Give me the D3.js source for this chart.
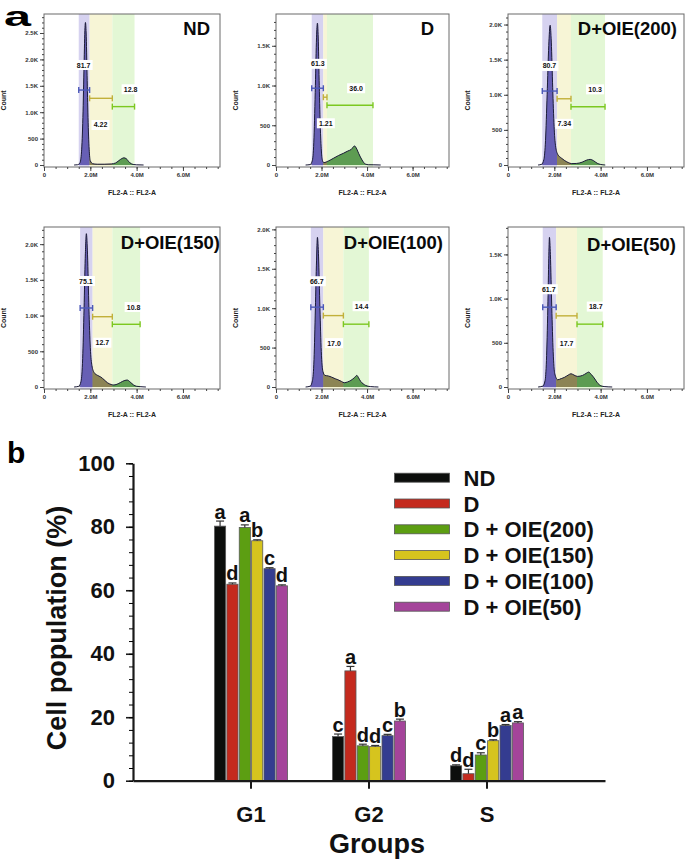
<!DOCTYPE html>
<html><head><meta charset="utf-8">
<script src="https://cdn.jsdelivr.net/npm/d3@7"></script>
<style>
body{margin:0;background:#fff}
svg{display:block}
text{font-family:"Liberation Sans",Arial,Helvetica,sans-serif;font-weight:bold}
</style>
</head><body>
<svg id="c" width="685" height="859"></svg>
<script>
// ---------------- Panel a : DNA histograms ----------------
const panelTitles = ["ND","D","D+OIE(200)","D+OIE(150)","D+OIE(100)","D+OIE(50)"];
const panelYMax = [2860, 1900, 2150, 2240, 2030, 1810];
const xTickValues = [0, 2, 4, 6];
const xTickLabels = ["0","2.0M","4.0M","6.0M"];
const yTickLabels = ["0","500","1.0K","1.5K","2.0K","2.5K"];

// [FL2-A (millions), count]
const histND = [[1.3,0],[1.45,5],[1.55,40],[1.62,250],[1.68,900],[1.73,1900],[1.77,2600],[1.79,2700],[1.82,2500],[1.86,1700],[1.9,900],[1.95,300],[2.0,80],[2.1,25],[2.3,15],[2.6,15],[2.9,20],[3.1,40],[3.3,105],[3.45,135],[3.55,120],[3.7,45],[3.85,10],[4.0,3],[4.3,0]];
const histD = [[1.3,0],[1.5,5],[1.6,60],[1.67,350],[1.73,1000],[1.78,1600],[1.82,1785],[1.86,1550],[1.9,1000],[1.95,450],[2.0,150],[2.05,50],[2.1,30],[2.3,50],[2.52,84],[2.75,120],[2.96,147],[3.15,175],[3.3,195],[3.45,239],[3.55,200],[3.63,147],[3.78,63],[3.92,13],[4.07,3],[4.3,2],[4.6,0]];
const hist200 = [[1.3,0],[1.45,10],[1.55,80],[1.62,350],[1.69,1000],[1.76,1700],[1.82,1990],[1.87,1750],[1.93,1100],[1.99,550],[2.05,280],[2.15,150],[2.3,100],[2.43,67],[2.6,35],[2.75,20],[2.95,22],[3.2,40],[3.4,70],[3.55,80],[3.7,60],[3.85,25],[4.0,8],[4.2,0]];
const hist150 = [[1.3,0],[1.5,10],[1.6,80],[1.67,400],[1.73,1100],[1.78,1800],[1.83,2147],[1.88,1850],[1.94,1100],[2.0,550],[2.07,300],[2.17,200],[2.3,165],[2.45,140],[2.6,100],[2.74,60],[2.9,35],[3.02,28],[3.2,45],[3.4,80],[3.59,98],[3.72,70],[3.87,28],[4.0,10],[4.15,5],[4.4,0]];
const hist100 = [[1.3,0],[1.5,10],[1.6,80],[1.67,350],[1.73,1000],[1.78,1600],[1.82,1899],[1.87,1650],[1.93,1000],[1.99,450],[2.06,200],[2.15,147],[2.3,140],[2.43,127],[2.6,105],[2.72,92],[2.88,70],[3.0,54],[3.15,65],[3.29,84],[3.45,120],[3.55,147],[3.63,115],[3.72,71],[3.83,40],[3.94,20],[4.15,5],[4.5,0]];
const hist50 = [[1.3,0],[1.5,10],[1.6,70],[1.66,300],[1.72,900],[1.76,1450],[1.79,1693],[1.83,1500],[1.89,900],[1.95,400],[2.02,150],[2.15,82],[2.3,95],[2.43,108],[2.6,135],[2.72,150],[2.85,135],[3.0,120],[3.22,131],[3.38,155],[3.48,169],[3.6,140],[3.72,102],[3.84,55],[3.94,26],[4.15,5],[4.5,0]];
const histograms = [histND, histD, hist200, hist150, hist100, hist50];

// gate edges (M): G1 start, G1 end / S start, S end / G2 start, G2 end
const gateEdges = [[1.50,1.97,2.95,3.91],[1.57,2.08,2.24,4.26],[1.48,2.12,2.72,4.19],[1.56,2.10,2.95,4.15],[1.53,2.08,2.96,4.08],[1.50,2.08,2.98,4.09]];
const gatePercents = [["81.7","4.22","12.8"],["61.3","1.21","36.0"],["80.7","7.34","10.3"],["75.1","12.7","10.8"],["66.7","17.0","14.4"],["61.7","17.7","18.7"]];
const bracketCounts = [[1420,1263,1106],[966,853,752],[1053,943,829],[1106,984,878],[1013,906,797],[903,805,711]];
const labelAnchors = [
  [[1.71,1894],[2.44,758],[3.74,1434]],
  [[1.84,1273],[2.19,525],[3.52,966]],
  [[1.79,1410],[2.43,586],[3.76,1077]],
  [[1.81,1484],[2.52,620],[3.87,1120]],
  [[1.79,1342],[2.55,557],[3.76,1025]],
  [[1.76,1106],[2.53,497],[3.79,910]]
];

// ---------------- Panel b : bar chart ----------------
const groups = ["G1","G2","S"];
const seriesNames = ["ND","D","D + OIE(200)","D + OIE(150)","D + OIE(100)","D + OIE(50)"];
const g1Values = [80.2, 61.9, 79.8, 75.6, 66.8, 61.4];
const g2Values = [13.9, 34.6, 11.0, 10.8, 14.2, 18.8];
const sValues  = [4.7, 2.2, 8.1, 12.6, 17.4, 18.2];
const g1Errors = [1.6, 0.4, 0.8, 0.3, 0.3, 0.3];
const g2Errors = [0.8, 1.4, 0.5, 0.3, 0.4, 0.6];
const sErrors  = [0.3, 1.4, 0.7, 0.3, 0.3, 0.4];
const g1Letters = ["a","d","a","b","c","d"];
const g2Letters = ["c","a","d","d","c","b"];
const sLetters  = ["d","d","c","b","a","a"];
const yBarTicks = [0,20,40,60,80,100];

// ---------------- drawing ----------------
const svg = d3.select("#c");
const defs = svg.append("defs");

const seriesColors = ["#0c0e0c","#c42a1e","#5c9e12","#d6c41e","#343c90","#a4449a"];
const gateBg = ["#d6d2f0","#f7f5d6","#e3f7d5"];
const gateFill = ["#675fb5","#8c8455","#5d9c52"];
const bracketColor = ["#4b58b8","#c2b03a","#7cc820"];

const colLeft = [44, 276, 508], colWidth = [176, 173, 176];
const rowTop = [14, 227], rowBottom = [167, 389];
const titleRight = [210, 434, 677, 220, 443, 676];
const titleBase = [35, 35, 35, 249, 249, 251];

svg.append("text").attr("x", 4).attr("y", 25.5).attr("font-size", 28)
  .attr("textLength", 27).attr("lengthAdjust", "spacingAndGlyphs").text("a");

histograms.forEach((hist, i) => {
  const col = i % 3, row = Math.floor(i / 3);
  const L = colLeft[col], R = L + colWidth[col], T = rowTop[row], B = rowBottom[row];
  const x = d3.scaleLinear().domain([0, 7.6]).range([L, R]);
  const y = d3.scaleLinear().domain([0, panelYMax[i]]).range([B - 2, T]);
  const g = svg.append("g");
  const e = gateEdges[i];
  const gates = [[e[0], e[1]], [e[1], e[2]], [e[2], e[3]]];

  gates.forEach((gt, k) => {
    g.append("rect").attr("x", x(gt[0])).attr("y", T).attr("width", x(gt[1]) - x(gt[0]))
      .attr("height", B - T).attr("fill", gateBg[k]);
  });

  const area = d3.area().x(d => x(d[0])).y0(y(0)).y1(d => y(d[1])).curve(d3.curveMonotoneX);
  const line = d3.line().x(d => x(d[0])).y(d => y(d[1])).curve(d3.curveMonotoneX);

  g.append("path").attr("d", area(hist)).attr("fill", "#8d8d8d");
  gates.forEach((gt, k) => {
    const id = `clip${i}_${k}`;
    defs.append("clipPath").attr("id", id).append("rect")
      .attr("x", x(gt[0])).attr("y", T).attr("width", x(gt[1]) - x(gt[0])).attr("height", B - T);
    g.append("path").attr("d", area(hist)).attr("fill", gateFill[k]).attr("clip-path", `url(#${id})`);
  });
  g.append("path").attr("d", line(hist)).attr("fill", "none").attr("stroke", "#1d1d3a").attr("stroke-width", 1);

  gates.forEach((gt, k) => {
    const yy = y(bracketCounts[i][k]);
    const bg = g.append("g").attr("stroke", bracketColor[k]).attr("stroke-width", 1.4);
    bg.append("line").attr("x1", x(gt[0])).attr("x2", x(gt[1])).attr("y1", yy).attr("y2", yy);
    bg.append("line").attr("x1", x(gt[0])).attr("x2", x(gt[0])).attr("y1", yy - 3).attr("y2", yy + 3);
    bg.append("line").attr("x1", x(gt[1])).attr("x2", x(gt[1])).attr("y1", yy - 3).attr("y2", yy + 3);
  });

  labelAnchors[i].forEach((p, k) => {
    const cx = x(p[0]), cy = y(p[1]);
    g.append("rect").attr("x", cx - 9).attr("y", cy - 5).attr("width", 18).attr("height", 10).attr("fill", "#fff");
    g.append("text").attr("x", cx).attr("y", cy + 2.5).attr("text-anchor", "middle")
      .attr("font-size", 7).attr("fill", "#111").text(gatePercents[i][k]);
  });

  g.append("rect").attr("x", L).attr("y", T).attr("width", R - L).attr("height", B - T)
    .attr("fill", "none").attr("stroke", "#6a6a6a").attr("stroke-width", 1);

  const yMajor = d3.range(0, panelYMax[i], 500);
  const yAx = g.append("g").attr("transform", `translate(${L},0)`)
    .call(d3.axisLeft(y).tickValues(yMajor).tickFormat((d, j) => yTickLabels[j]).tickSize(4).tickSizeOuter(0).tickPadding(2));
  g.append("g").attr("transform", `translate(${L},0)`)
    .call(d3.axisLeft(y).tickValues(d3.range(0, panelYMax[i], 100)).tickFormat("").tickSize(2).tickSizeOuter(0))
    .call(a => a.select(".domain").remove());
  const xAx = g.append("g").attr("transform", `translate(0,${B})`)
    .call(d3.axisBottom(x).tickValues(xTickValues).tickFormat((d, j) => xTickLabels[j]).tickSize(4).tickSizeOuter(0).tickPadding(2));
  g.append("g").attr("transform", `translate(0,${B})`)
    .call(d3.axisBottom(x).tickValues(d3.range(0, 7.6, 0.5)).tickFormat("").tickSize(2).tickSizeOuter(0))
    .call(a => a.select(".domain").remove());
  [yAx, xAx].forEach(a => {
    a.select(".domain").remove();
    a.selectAll("text").attr("font-size", 6).attr("fill", "#333").style("font-family", '"Liberation Sans",Arial,sans-serif').style("font-weight", "bold");
  });
  g.selectAll(".tick line").attr("stroke", "#444");

  g.append("text").attr("transform", `translate(${L - 38},${(T + B) / 2 + 10}) rotate(-90)`)
    .attr("text-anchor", "middle").attr("font-size", 7).attr("fill", "#222").text("Count");
  g.append("text").attr("x", (L + R) / 2).attr("y", B + 28).attr("text-anchor", "middle")
    .attr("font-size", 7).attr("fill", "#222").text("FL2-A :: FL2-A");

  g.append("text").attr("x", titleRight[i]).attr("y", titleBase[i]).attr("text-anchor", "end")
    .attr("font-size", 18.5).attr("fill", "#0a0a0a").text(panelTitles[i]);
});

// ---------------- bar chart ----------------
svg.append("text").attr("x", 7).attr("y", 463).attr("font-size", 30).text("b");

const yB = d3.scaleLinear().domain([0, 100]).range([780.7, 463.3]);
const xB = d3.scaleBand().domain(groups).range([133, 605]).paddingInner(0).paddingOuter(0.5);
const xS = d3.scaleBand().domain(seriesNames).range([-36.5, 36.5]).paddingInner(0.1);

const values = [g1Values, g2Values, sValues];
const errors = [g1Errors, g2Errors, sErrors];
const letters = [g1Letters, g2Letters, sLetters];

const bars = svg.append("g");
groups.forEach((grp, gi) => {
  const cx = xB(grp) + xB.bandwidth() / 2;
  seriesNames.forEach((s, si) => {
    const v = values[gi][si], er = errors[gi][si];
    const bx = cx + xS(s), bw = xS.bandwidth();
    bars.append("rect").attr("x", bx).attr("y", yB(v)).attr("width", bw).attr("height", yB(0) - yB(v))
      .attr("fill", seriesColors[si]).attr("stroke", "#5a5a5a").attr("stroke-width", 0.8);
    const mx = bx + bw / 2;
    bars.append("line").attr("x1", mx).attr("x2", mx).attr("y1", yB(v)).attr("y2", yB(v + er))
      .attr("stroke", "#333").attr("stroke-width", 1.2);
    bars.append("line").attr("x1", mx - 4).attr("x2", mx + 4).attr("y1", yB(v + er)).attr("y2", yB(v + er))
      .attr("stroke", "#333").attr("stroke-width", 1.2);
    bars.append("text").attr("x", mx).attr("y", yB(v + er) - 2.5).attr("text-anchor", "middle")
      .attr("font-size", 20).attr("fill", "#111").text(letters[gi][si]);
  });
});

const yAxB = svg.append("g").attr("transform", "translate(133,0)")
  .call(d3.axisLeft(yB).tickValues(yBarTicks).tickSize(7).tickSizeOuter(0).tickPadding(11));
svg.append("g").attr("transform", "translate(133,0)")
  .call(d3.axisLeft(yB).tickValues(d3.range(0, 101, 4)).tickFormat("").tickSize(4).tickSizeOuter(0))
  .call(a => a.select(".domain").remove());
yAxB.selectAll("text").attr("font-size", 22).attr("fill", "#111")
  .style("font-family", '"Liberation Sans",Arial,sans-serif').style("font-weight", "bold");

const xAxB = svg.append("g").attr("transform", `translate(0,${yB(0)})`)
  .call(d3.axisBottom(xB).tickSize(8).tickSizeOuter(0).tickPadding(18));
xAxB.selectAll("text").attr("font-size", 22).attr("fill", "#111")
  .style("font-family", '"Liberation Sans",Arial,sans-serif').style("font-weight", "bold");

[yAxB, xAxB].forEach(a => { a.select(".domain").attr("stroke", "#1a1a1a").attr("stroke-width", 2.2); });
yAxB.selectAll(".tick line").attr("stroke", "#1a1a1a").attr("stroke-width", 1.6);
xAxB.selectAll(".tick line").attr("stroke", "#1a1a1a").attr("stroke-width", 2);

svg.append("text").attr("transform", "translate(66,628) rotate(-90)").attr("text-anchor", "middle")
  .attr("font-size", 27).attr("fill", "#111").text("Cell population (%)");
svg.append("text").attr("x", 377).attr("y", 853).attr("text-anchor", "middle")
  .attr("font-size", 27).attr("fill", "#111").text("Groups");

const leg = svg.append("g");
seriesNames.forEach((s, si) => {
  const cy = 477.7 + si * 25.8;
  leg.append("rect").attr("x", 394.5).attr("y", cy - 4.5).attr("width", 55).attr("height", 9)
    .attr("fill", seriesColors[si]).attr("stroke", "#555").attr("stroke-width", 0.8);
  leg.append("text").attr("x", 463.5).attr("y", cy + 8).attr("font-size", 22).attr("fill", "#111").text(s);
});
</script>
</body></html>
